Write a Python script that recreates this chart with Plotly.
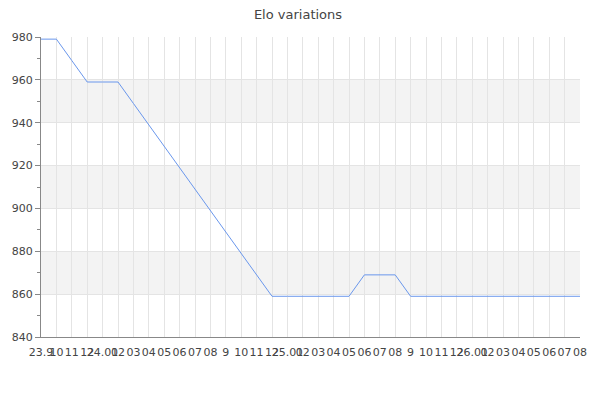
import plotly.graph_objects as go

months = ['23.9', '10', '11', '12', '24.01', '02', '03', '04', '05', '06', '07', '08',
          '9', '10', '11', '12', '25.01', '02', '03', '04', '05', '06', '07', '08',
          '9', '10', '11', '12', '26.01', '02', '03', '04', '05', '06', '07', '08']
elo = [979, 979, 969, 959, 959, 959, 949, 939, 929, 919, 909, 899, 889, 879, 869, 859,
       859, 859, 859, 859, 859, 869, 869, 869, 859, 859, 859, 859, 859, 859, 859, 859,
       859, 859, 859, 859]
y_ticks = [840, 860, 880, 900, 920, 940, 960, 980]

idx = list(range(len(months)))

fig = go.Figure()
fig.add_trace(go.Scatter(x=idx, y=elo,
                         mode='lines',
                         line=dict(color='#6a97ec', width=1),
                         hoverinfo='y',
                         name='Elo'))

# alternating grey bands (860-880, 900-920, 940-960)
for lo, hi in zip(y_ticks[:-1], y_ticks[1:]):
    if (lo // 20) % 2 == 0:
        continue
    fig.add_shape(type='rect', xref='paper', yref='y', x0=0, x1=1, y0=lo, y1=hi,
                  fillcolor='#f3f3f3', line_width=0, layer='below')

# the page has an 8px body margin, so margins are shifted to compensate
fig.update_layout(title=dict(text='Elo variations', x=0.4833, xanchor='center',
                             y=0.984, yanchor='middle',
                             font=dict(family='DejaVu Sans', size=13, color='#444')),
                  width=600, height=400,
                  margin=dict(l=33, r=28, t=29, b=71),
                  plot_bgcolor='white',
                  paper_bgcolor='white',
                  showlegend=False,
                  font=dict(family='DejaVu Sans', size=11, color='#444'))

fig.update_xaxes(range=[0, len(months) - 1],
                 tickmode='array', tickvals=idx, ticktext=months,
                 tickangle=0, automargin=False,
                 showgrid=True, gridcolor='#e4e4e4', gridwidth=1,
                 showline=True, linecolor='#888', linewidth=1,
                 ticks='', ticklabelstandoff=5, zeroline=False)

fig.update_yaxes(range=[840, 980],
                 tickmode='array', tickvals=y_ticks,
                 automargin=False,
                 showgrid=True, gridcolor='#e4e4e4', gridwidth=1,
                 showline=True, linecolor='#888', linewidth=1,
                 ticks='outside', ticklen=5, tickcolor='#888',
                 minor=dict(dtick=10, ticks='outside', ticklen=3, tickcolor='#888', showgrid=False),
                 zeroline=False)

fig.write_html('out.html')
